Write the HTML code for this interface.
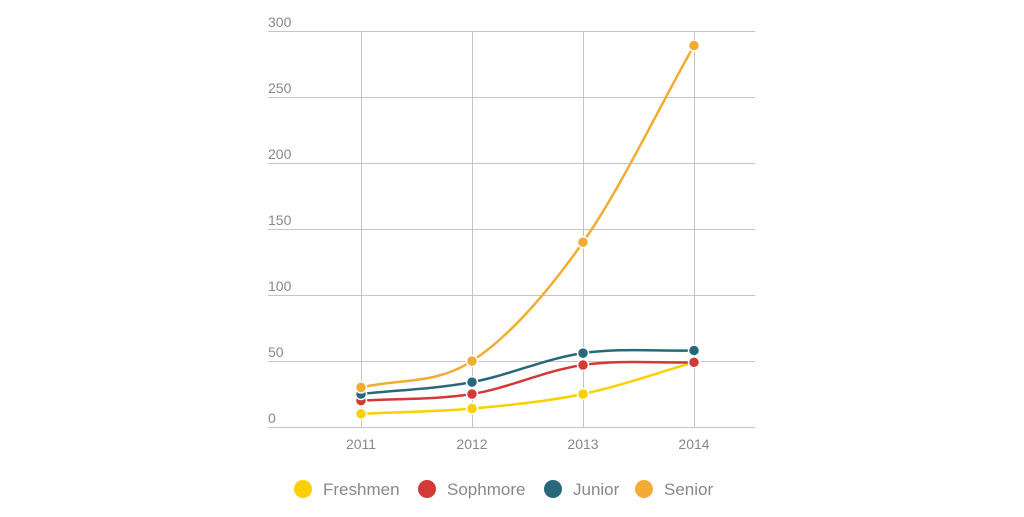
<!DOCTYPE html>
<html><head><meta charset="utf-8"><style>
body{margin:0;background:#fff;width:1024px;height:512px;overflow:hidden}
svg text{font-family:"Liberation Sans",sans-serif;fill:#888}
</style></head><body>
<svg id="c" width="1024" height="512"></svg>
<script>
const categories=["2011","2012","2013","2014"];
const yTicks=[0,50,100,150,200,250,300];
const seriesNames=["Freshmen","Sophmore","Junior","Senior"];
const freshmen=[10,14,25,49];
const sophmore=[20,25,47,49];
const junior=[25,34,56,58];
const senior=[30,50,140,289];
const colors=["#fcd000","#d13a37","#27697a","#f2ac33"];
const allSeries=[freshmen,sophmore,junior,senior];
const svg=document.getElementById('c');const NS="http://www.w3.org/2000/svg";
function mk(t,a,p){const e=document.createElementNS(NS,t);for(const k in a)e.setAttribute(k,a[k]);(p||svg).appendChild(e);return e;}
const x=i=>361+i*111;const y=v=>427-v*1.32;
yTicks.forEach(v=>{const l=mk('line',{x1:268,x2:755,y1:y(v)+0.5,y2:y(v)+0.5,stroke:'#c4c4c4','stroke-width':1});

const t=mk('text',{x:268,y:y(v)-4,'font-size':14});t.textContent=v;
});
categories.forEach((c,i)=>{const l=mk('line',{x1:x(i)+0.5,x2:x(i)+0.5,y1:y(300),y2:y(0),stroke:'#c4c4c4'});

const t=mk('text',{x:x(i),y:449,'font-size':14,'text-anchor':'middle'});t.textContent=c;
});
function path(vals){const p=vals.map((v,i)=>[x(i),y(v)]);const n=p.length;
const d=[],m=[];for(let i=0;i<n-1;i++)d.push((p[i+1][1]-p[i][1])/(p[i+1][0]-p[i][0]));
m[0]=d[0];m[n-1]=d[n-2];for(let i=1;i<n-1;i++)m[i]=d[i-1]*d[i]<=0?0:(d[i-1]+d[i])/2;
let s=`M${p[0][0]},${p[0][1]}`;for(let i=0;i<n-1;i++){const h=(p[i+1][0]-p[i][0])/3;
s+=` C${p[i][0]+h},${p[i][1]+m[i]*h} ${p[i+1][0]-h},${p[i+1][1]-m[i+1]*h} ${p[i+1][0]},${p[i+1][1]}`;}return s;}
allSeries.forEach((vals,si)=>{const g=mk('g',{});
const l=mk('path',{d:path(vals),fill:'none',stroke:colors[si],'stroke-width':2.5},g);

vals.forEach((v,i)=>{const c=mk('circle',{cx:x(i),cy:y(v),r:5.5,fill:colors[si],stroke:'#fff','stroke-width':1.5},g);
});});
const lx=[303,427,553,644];
seriesNames.forEach((n,i)=>{const g=mk('g',{});
mk('circle',{cx:lx[i],cy:489,r:9,fill:colors[i]},g);
const t=mk('text',{x:lx[i]+20,y:495,'font-size':17,fill:'#999'},g);t.textContent=n;});
</script></body></html>
